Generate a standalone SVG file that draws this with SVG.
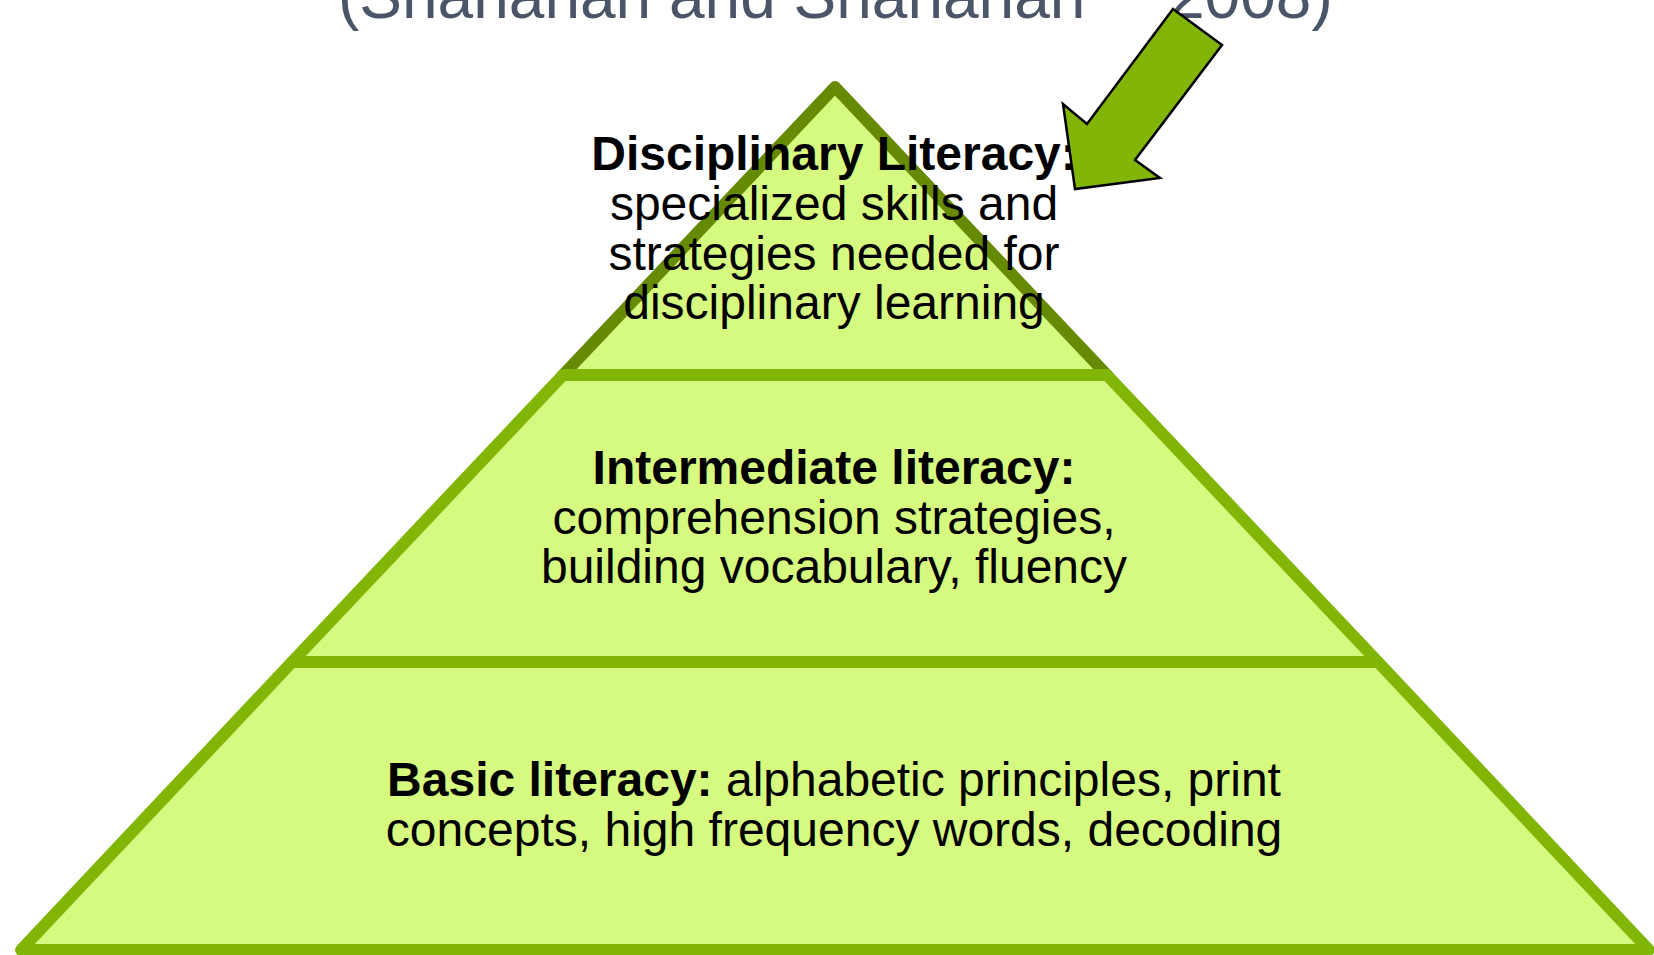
<svg xmlns="http://www.w3.org/2000/svg" width="1654" height="955" viewBox="0 0 1654 955">
  <style>
    .tier { fill: #d6fa80; stroke-width: 12; stroke-linejoin: round; }
    .tier-top { stroke: #668a04; }
    .tier-low { stroke: #82b606; }
    .label { font-family: "Liberation Sans", Arial, sans-serif; font-size: 48px; fill: #000; text-anchor: middle; }
    .label .b { font-weight: bold; }
    .title { font-family: "Liberation Sans", Arial, sans-serif; font-size: 64px; fill: #4a5568; }
    .pointer { fill: #82b505; stroke: #000; stroke-width: 2.5; stroke-linejoin: miter; }
  </style>
  <rect width="1654" height="955" fill="#ffffff"/>

  <!-- citation line, partly running off the top edge -->
  <g id="title">
    <text class="title" x="338" y="18">(Shanahan and Shanahan</text>
    <text class="title" x="1169" y="18">2008)</text>
  </g>

  <!-- pyramid tiers, top to bottom; each lower tier's outline sits over the one above -->
  <g id="tier-disciplinary">
    <polygon class="tier tier-top" points="835,87 1107,375 563,375"/>
  </g>
  <g id="tier-intermediate">
    <polygon class="tier tier-low" points="563,375 1107,375 1378,662 292,662"/>
  </g>
  <g id="tier-basic">
    <polygon class="tier tier-low" points="292,662 1378,662 1649,950 21,950"/>
  </g>

  <g id="labels">
    <text class="label" x="834" y="170"><tspan class="b">Disciplinary Literacy:</tspan></text>
    <text class="label" x="834" y="220">specialized skills and</text>
    <text class="label" x="834" y="270">strategies needed for</text>
    <text class="label" x="834" y="319">disciplinary learning</text>

    <text class="label" x="834" y="484"><tspan class="b">Intermediate literacy:</tspan></text>
    <text class="label" x="834" y="534">comprehension strategies,</text>
    <text class="label" x="834" y="583">building vocabulary, fluency</text>

    <text class="label" x="834" y="796"><tspan class="b">Basic literacy:</tspan> alphabetic principles, print</text>
    <text class="label" x="834" y="846">concepts, high frequency words, decoding</text>
  </g>

  <!-- block arrow pointing down-left at the top tier -->
  <g id="connectors">
    <polygon class="pointer" points="1173,9 1222,45 1135,160 1160,178 1075,189 1063,104 1087,124"/>
  </g>
</svg>
